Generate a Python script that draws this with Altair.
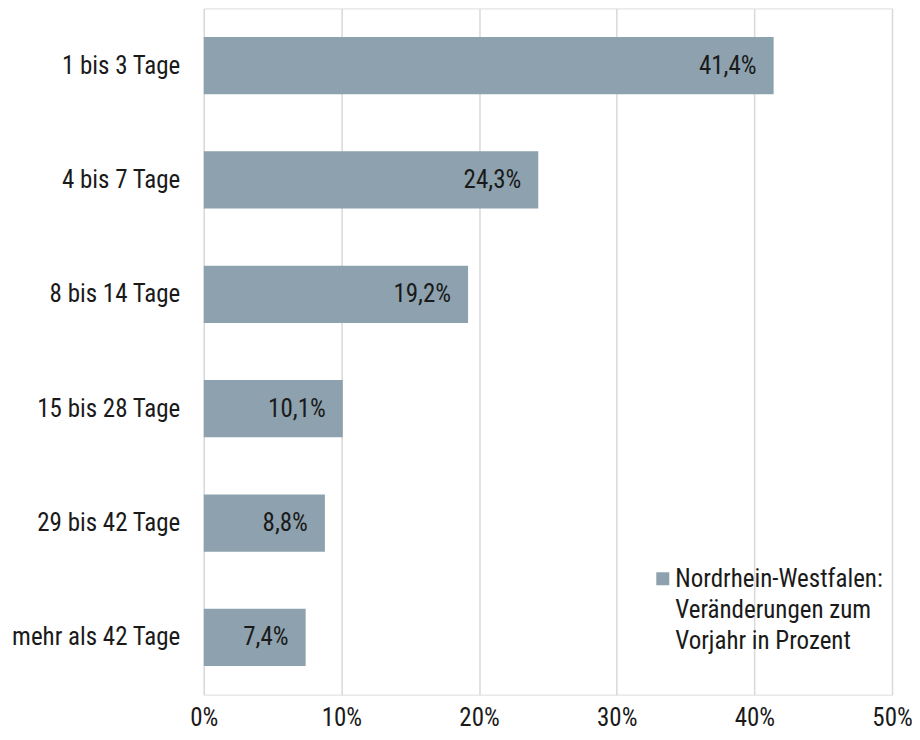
import altair as alt
import pandas as pd

categories = ["1 bis 3 Tage", "4 bis 7 Tage", "8 bis 14 Tage", "15 bis 28 Tage",
              "29 bis 42 Tage", "mehr als 42 Tage"]
values = [41.4, 24.3, 19.2, 10.1, 8.8, 7.4]
series = "Nordrhein-Westfalen: Veränderungen zum Vorjahr in Prozent"
legend_lines = ["Nordrhein-Westfalen:", "Veränderungen zum", "Vorjahr in Prozent"]
x_ticks = [0, 10, 20, 30, 40, 50]

df = pd.DataFrame({
    "kategorie": categories,
    "wert": values,
    "label": [f"{v:.1f}".replace(".", ",") + "%" for v in values],
    "serie": [series] * len(values),
})

FONT = "Liberation Sans Narrow, Arial Narrow, Roboto Condensed, Liberation Sans, sans-serif"
FS = 25
legend_expr = "[" + ", ".join("'" + s + "'" for s in legend_lines) + "]"

x = alt.X("wert:Q", scale=alt.Scale(domain=[0, 50], nice=False),
          axis=alt.Axis(values=x_ticks, labelExpr="datum.value + '%'", title=None,
                        domain=False, ticks=False, grid=True, gridColor="#D9D9D9",
                        gridWidth=1.5, labelFontSize=FS, labelPadding=11,
                        labelColor="#1a1a1a", labelFont=FONT, labelFlush=False))
y = alt.Y("kategorie:N", sort=categories,
          scale=alt.Scale(paddingInner=0.5, paddingOuter=0.25),
          axis=alt.Axis(title=None, domain=False, ticks=False, grid=False,
                        labelFontSize=FS, labelPadding=24, labelColor="#1a1a1a",
                        labelFont=FONT, labelLimit=300))

bars = alt.Chart(df).mark_bar(color="#8DA2AE").encode(
    x=x, y=y,
    color=alt.Color("serie:N", scale=alt.Scale(range=["#8DA2AE"]),
                    legend=alt.Legend(title=None, orient="none", legendX=447, legendY=567,
                                      symbolType="M-1,-2.31L1,-2.31L1,-0.31L-1,-0.31Z",
                                      symbolSize=169, symbolStrokeWidth=0,
                                      labelFontSize=FS, labelFont=FONT, labelColor="#1a1a1a",
                                      labelLimit=400, labelBaseline="alphabetic", labelOffset=0,
                                      labelExpr=legend_expr)),
)

text = alt.Chart(df).mark_text(align="right", baseline="middle", dx=-17, fontSize=FS,
                               font=FONT, color="#1a1a1a").encode(
    x="wert:Q", y=alt.Y("kategorie:N", sort=categories), text="label:N")

chart = (bars + text).properties(
    width=689, height=687,
    padding={"left": 196, "top": 0, "right": 20, "bottom": 37},
    autosize=alt.AutoSizeParams(type="none"),
).configure_view(stroke=None).configure(
    background="white",
    style={"guide-label": {"lineHeight": 31}},
)

chart.save("out.html", embed_options={"renderer": "svg", "actions": False})
